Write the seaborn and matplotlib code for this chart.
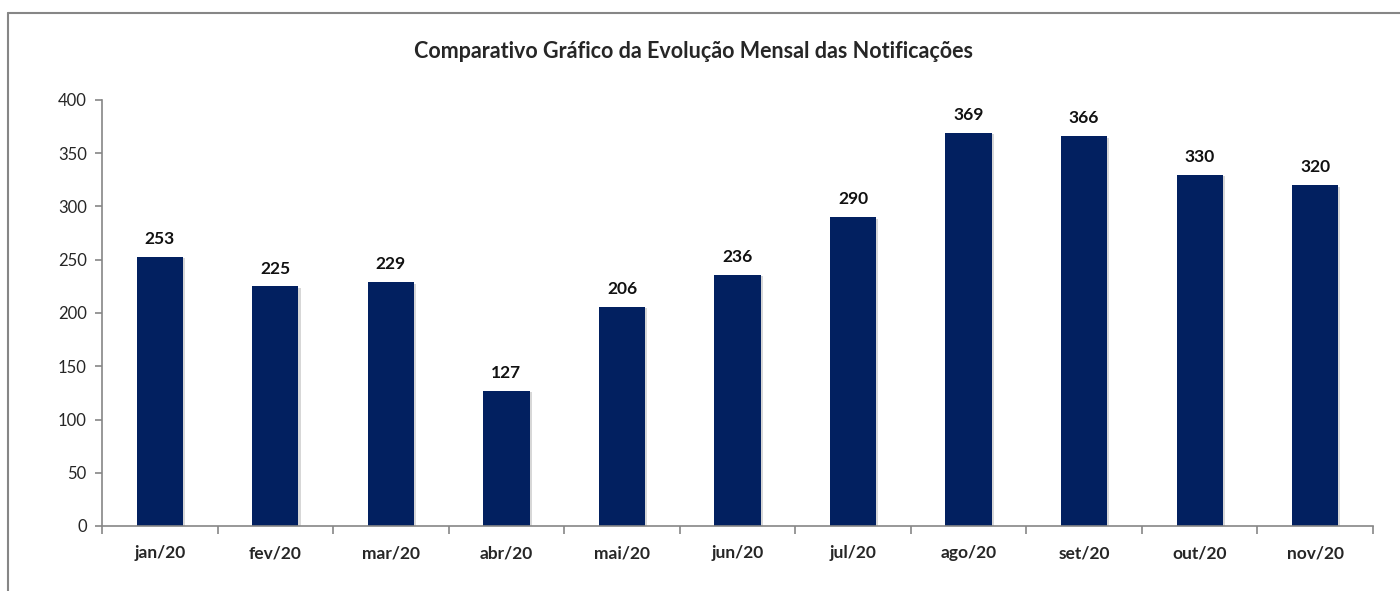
import matplotlib
matplotlib.use("Agg")
import matplotlib.pyplot as plt
import matplotlib.patheffects as pe
from matplotlib.lines import Line2D
from matplotlib.ticker import FixedLocator
import seaborn as sns
import pandas as pd

months = ["jan/20", "fev/20", "mar/20", "abr/20", "mai/20", "jun/20",
          "jul/20", "ago/20", "set/20", "out/20", "nov/20"]
notificacoes = [253, 225, 229, 127, 206, 236, 290, 369, 366, 330, 320]

df = pd.DataFrame({"mes": months, "notificacoes": notificacoes})

sns.set_style("white")
plt.rcParams["font.family"] = ["Lato", "DejaVu Sans"]

fig = plt.figure(figsize=(14, 5.91), dpi=100)
ax = fig.add_axes([102 / 1400, 1 - 526 / 591, (1373 - 102) / 1400, (526 - 100) / 591])

sns.barplot(data=df, x="mes", y="notificacoes", color="#022060",
            width=0.4, saturation=1, linewidth=0, ax=ax)

# light drop shadow like the Excel original
for bar in ax.patches:
    bar.set_path_effects([pe.SimplePatchShadow(offset=(1.5, -1), shadow_rgbFace="#b0b0b0", alpha=0.5),
                          pe.Normal()])

for i, v in enumerate(notificacoes):
    ax.annotate(str(v), (i, v), xytext=(0, 7), textcoords="offset points",
                ha="center", va="bottom", fontsize=12.5, fontweight="bold", color="#111111")

ax.set_ylim(0, 400)
ax.set_yticks(range(0, 401, 50))
ax.set_xlim(-0.5, len(months) - 0.5)
ax.xaxis.set_minor_locator(FixedLocator([i - 0.5 for i in range(len(months) + 1)]))

ax.tick_params(axis="x", which="major", length=0, pad=14, labelsize=12.5)
ax.tick_params(axis="x", which="minor", length=6, width=1.2, color="#868686", direction="out", bottom=True)
ax.tick_params(axis="y", length=5, width=1.2, color="#868686", direction="out", left=True, labelsize=12, pad=6)
for lbl in ax.get_xticklabels():
    lbl.set_fontweight("bold")

ax.set_xlabel("")
ax.set_ylabel("")
for s in ["top", "right"]:
    ax.spines[s].set_visible(False)
for s in ["left", "bottom"]:
    ax.spines[s].set_color("#868686")
    ax.spines[s].set_linewidth(1.2)

fig.text(694 / 1400, 1 - 51 / 591, "Comparativo Gráfico da Evolução Mensal das Notificações",
         ha="center", va="center", fontsize=15.5, fontweight="bold")

# outer chart frame (cut at right and bottom like the original)
fig.add_artist(Line2D([8 / 1400, 8 / 1400], [0, 1 - 13 / 591], transform=fig.transFigure,
                      color="#868686", linewidth=1.5))
fig.add_artist(Line2D([8 / 1400, 1], [1 - 13 / 591, 1 - 13 / 591], transform=fig.transFigure,
                      color="#868686", linewidth=1.5))

fig.savefig("out.png", dpi=100)
